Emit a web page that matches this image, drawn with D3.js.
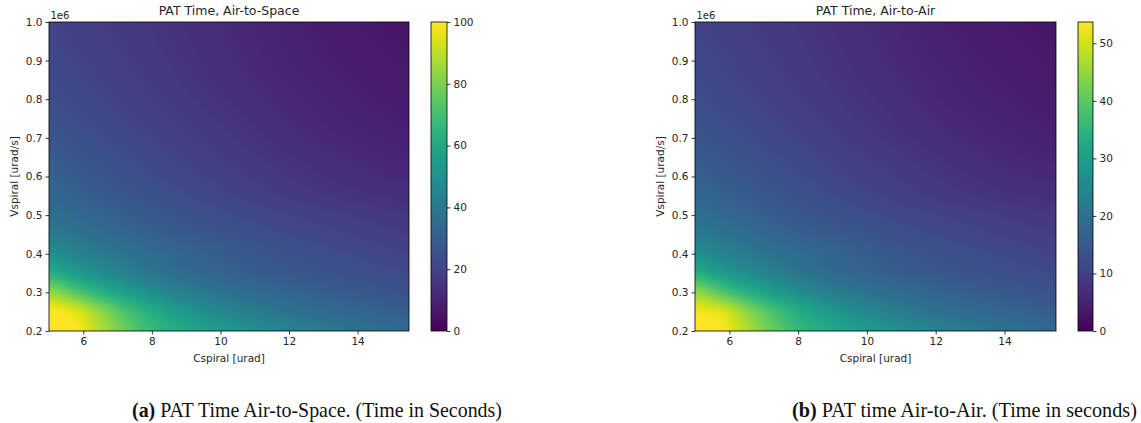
<!DOCTYPE html>
<html>
<head>
<meta charset="utf-8">
<script src="https://cdn.jsdelivr.net/npm/d3@7"></script>
<style>
  html, body { margin: 0; padding: 0; background: #ffffff; }
  svg { display: block; }
  text { font-family: "DejaVu Sans", sans-serif; fill: #262626; }
  .caption { font-family: "Liberation Serif", "DejaVu Serif", serif; fill: #111; }
</style>
</head>
<body>
<svg id="chart" width="1141" height="423"></svg>
<script>
// ---------------- data ----------------
// grid columns: Cspiral [urad]
const C_VALUES = [5, 5.75, 6.5, 7.25, 8, 8.75, 9.5, 10.25, 11, 11.75, 12.5, 13.25, 14, 14.75, 15.5];
// grid rows: Vspiral [urad/s] (in units of 1e6)
const V_VALUES = [0.2, 0.25, 0.3, 0.35, 0.4, 0.45, 0.5, 0.55, 0.6, 0.7, 0.8, 0.9, 1.0];

// PAT time (s), Air-to-Space: one row per V_VALUES entry, one column per C_VALUES entry
const AIR_TO_SPACE = [
  [100, 100, 88, 76.5, 67, 61.5, 57.5, 53.5, 49, 45.5, 42.5, 40, 37.5, 35.5, 34],
  [100, 95, 83, 71, 62, 55, 49.5, 45, 41.5, 38.5, 36, 34, 32.2, 30.5, 29],
  [84, 74, 64, 56, 49.5, 44, 40, 37, 34.5, 32.4, 30.6, 29.1, 27.7, 26.3, 25],
  [63, 55.5, 49, 43.5, 39, 35.5, 33, 31, 29.3, 27.8, 26.5, 25.3, 24.3, 23.4, 22.5],
  [50, 45, 41, 37.6, 34.8, 32.4, 30.4, 28.7, 27.1, 25.7, 24.4, 23.2, 22.1, 21, 20],
  [41.5, 38.2, 35.3, 32.8, 30.6, 28.7, 27, 25.5, 24.1, 22.8, 21.6, 20.5, 19.4, 18.4, 17.5],
  [36.5, 34, 31.5, 29.4, 27.5, 25.8, 24.2, 22.8, 21.5, 20.3, 19.2, 18.2, 17.3, 16.4, 15.6],
  [33, 30.8, 28.7, 26.8, 25, 23.3, 21.7, 20.2, 18.8, 17.6, 16.5, 15.5, 14.6, 13.9, 13.3],
  [30.5, 28.4, 26.4, 24.6, 22.9, 21.3, 19.8, 18.4, 17.1, 15.9, 14.8, 13.8, 12.9, 12.1, 11.5],
  [26.5, 24.8, 23.1, 21.5, 20, 18.6, 17.2, 15.9, 14.6, 13.4, 12.3, 11.3, 10.4, 9.7, 9],
  [23.5, 22, 20.6, 19.2, 17.8, 16.5, 15.2, 14, 12.8, 11.6, 10.5, 9.6, 8.8, 8.1, 7.5],
  [21.5, 20.3, 19, 17.7, 16.4, 15.1, 13.9, 12.7, 11.5, 10.3, 9.3, 8.4, 7.6, 7, 6.5],
  [20, 19, 17.8, 16.6, 15.5, 14.3, 13.2, 12, 10.8, 9.6, 8.5, 7.6, 6.8, 6.1, 5.5]
];

// PAT time (s), Air-to-Air
const AIR_TO_AIR = [
  [53.7, 53.6, 47.2, 41.0, 35.9, 33.0, 30.8, 28.7, 26.3, 24.4, 22.8, 21.4, 20.1, 19.0, 18.2],
  [52.5, 50.9, 44.5, 38.1, 33.2, 29.5, 26.5, 24.1, 22.2, 20.6, 19.3, 18.2, 17.3, 16.3, 15.5],
  [45.0, 39.7, 34.3, 30.0, 26.5, 23.6, 21.4, 19.8, 18.5, 17.4, 16.4, 15.6, 14.8, 14.1, 13.4],
  [33.8, 29.7, 26.3, 23.3, 20.9, 19.0, 17.7, 16.6, 15.7, 14.9, 14.2, 13.6, 13.0, 12.5, 12.1],
  [26.8, 24.1, 22.0, 20.2, 18.7, 17.4, 16.3, 15.4, 14.5, 13.8, 13.1, 12.4, 11.8, 11.3, 10.7],
  [22.2, 20.5, 18.9, 17.6, 16.4, 15.4, 14.5, 13.7, 12.9, 12.2, 11.6, 11.0, 10.4, 9.9, 9.4],
  [19.6, 18.2, 16.9, 15.8, 14.7, 13.8, 13.0, 12.2, 11.5, 10.9, 10.3, 9.8, 9.3, 8.8, 8.4],
  [17.7, 16.5, 15.4, 14.4, 13.4, 12.5, 11.6, 10.8, 10.1, 9.4, 8.8, 8.3, 7.8, 7.5, 7.1],
  [16.3, 15.2, 14.2, 13.2, 12.3, 11.4, 10.6, 9.9, 9.2, 8.5, 7.9, 7.4, 6.9, 6.5, 6.2],
  [14.2, 13.3, 12.4, 11.5, 10.7, 10.0, 9.2, 8.5, 7.8, 7.2, 6.6, 6.1, 5.6, 5.2, 4.8],
  [12.6, 11.8, 11.0, 10.3, 9.5, 8.8, 8.1, 7.5, 6.9, 6.2, 5.6, 5.1, 4.7, 4.3, 4.0],
  [11.5, 10.9, 10.2, 9.5, 8.8, 8.1, 7.5, 6.8, 6.2, 5.5, 5.0, 4.5, 4.1, 3.8, 3.5],
  [10.7, 10.2, 9.5, 8.9, 8.3, 7.7, 7.1, 6.4, 5.8, 5.1, 4.6, 4.1, 3.6, 3.3, 2.9]
];

const X_DOMAIN = [5, 15.5];
const Y_DOMAIN = [0.2, 1.0];
const X_TICKS = [6, 8, 10, 12, 14];
const Y_TICKS = [0.2, 0.3, 0.4, 0.5, 0.6, 0.7, 0.8, 0.9, 1.0];
const CBAR_TICKS_A = [0, 20, 40, 60, 80, 100];
const CBAR_TICKS_B = [0, 10, 20, 30, 40, 50];
const VMAX_A = 100;
const VMAX_B = 53.7;
const TITLES = ["PAT Time, Air-to-Space", "PAT Time, Air-to-Air"];
const X_LABEL = "Cspiral [urad]";
const Y_LABEL = "Vspiral [urad/s]";
const OFFSET_LABEL = "1e6";
const CAPTIONS = [
  {tag: "(a)", text: " PAT Time Air-to-Space. (Time in Seconds)"},
  {tag: "(b)", text: " PAT time Air-to-Air. (Time in seconds)"}
];

// ---------------- layout ----------------
const panels = [
  {grid: AIR_TO_SPACE, vmax: VMAX_A, cticks: CBAR_TICKS_A, title: TITLES[0], caption: CAPTIONS[0],
   left: 49, top: 22, width: 360, height: 309, cbarX: 431, cbarW: 16, ylabX: 14, capX: 132, capW: 370},
  {grid: AIR_TO_AIR, vmax: VMAX_B, cticks: CBAR_TICKS_B, title: TITLES[1], caption: CAPTIONS[1],
   left: 695, top: 22, width: 361, height: 309, cbarX: 1078, cbarW: 15, ylabX: 660, capX: 792, capW: 345}
];

const svg = d3.select("#chart");

// fractional grid index of a value (piecewise linear over the grid coordinates)
function fracIndex(arr, v) {
  let i = d3.bisectRight(arr, v) - 1;
  i = Math.max(0, Math.min(arr.length - 2, i));
  const t = Math.max(0, Math.min(1, (v - arr[i]) / (arr[i + 1] - arr[i])));
  return i + t;
}
function cr(p0, p1, p2, p3, t) {
  const t2 = t * t, t3 = t2 * t;
  return 0.5 * ((2 * p1) + (-p0 + p2) * t + (2 * p0 - 5 * p1 + 4 * p2 - p3) * t2 + (-p0 + 3 * p1 - 3 * p2 + p3) * t3);
}
function sample(grid, c, v, vmax) {
  const fx = fracIndex(C_VALUES, c), fy = fracIndex(V_VALUES, v);
  const nx = C_VALUES.length, ny = V_VALUES.length;
  const i = Math.min(nx - 2, Math.floor(fx)), j = Math.min(ny - 2, Math.floor(fy));
  const tx = fx - i, ty = fy - j;
  const g = (jj, ii) => grid[Math.max(0, Math.min(ny - 1, jj))][Math.max(0, Math.min(nx - 1, ii))];
  const rows = [];
  for (let k = -1; k <= 2; k++) {
    rows.push(cr(g(j + k, i - 1), g(j + k, i), g(j + k, i + 1), g(j + k, i + 2), tx));
  }
  const val = cr(rows[0], rows[1], rows[2], rows[3], ty);
  return Math.max(0, Math.min(vmax, val));
}

panels.forEach(p => {
  const x = d3.scaleLinear().domain(X_DOMAIN).range([p.left, p.left + p.width]);
  const y = d3.scaleLinear().domain(Y_DOMAIN).range([p.top + p.height, p.top]);
  const color = d3.scaleSequential(d3.interpolateViridis).domain([0, p.vmax]).clamp(true);

  // heatmap raster
  const canvas = document.createElement("canvas");
  canvas.width = p.width; canvas.height = p.height;
  const ctx = canvas.getContext("2d");
  const img = ctx.createImageData(p.width, p.height);
  for (let py = 0; py < p.height; py++) {
    const vv = y.invert(p.top + py + 0.5);
    for (let px = 0; px < p.width; px++) {
      const cv = x.invert(p.left + px + 0.5);
      const c = d3.rgb(color(sample(p.grid, cv, vv, p.vmax)));
      const k = (py * p.width + px) * 4;
      img.data[k] = c.r; img.data[k + 1] = c.g; img.data[k + 2] = c.b; img.data[k + 3] = 255;
    }
  }
  ctx.putImageData(img, 0, 0);
  svg.append("image")
    .attr("x", p.left).attr("y", p.top)
    .attr("width", p.width).attr("height", p.height)
    .attr("preserveAspectRatio", "none")
    .attr("href", canvas.toDataURL());

  // frame
  svg.append("rect").attr("x", p.left).attr("y", p.top).attr("width", p.width).attr("height", p.height)
    .attr("fill", "none").attr("stroke", "#000").attr("stroke-width", 0.8);

  // axes
  const xAxis = d3.axisBottom(x).tickValues(X_TICKS).tickSize(3.5).tickPadding(3).tickFormat(d3.format("d"));
  const gx = svg.append("g").attr("transform", `translate(0,${p.top + p.height})`).call(xAxis);
  const yAxis = d3.axisLeft(y).tickValues(Y_TICKS).tickSize(3.5).tickPadding(3).tickFormat(d3.format(".1f"));
  const gy = svg.append("g").attr("transform", `translate(${p.left},0)`).call(yAxis);
  [gx, gy].forEach(g => {
    g.select(".domain").remove();
    g.selectAll(".tick line").attr("stroke", "#000").attr("stroke-width", 0.8);
    g.selectAll(".tick text").attr("font-size", 10.5).attr("font-family", "DejaVu Sans").attr("fill", "#262626");
  });

  // title
  svg.append("text").attr("x", p.left + p.width / 2).attr("y", 15)
    .attr("text-anchor", "middle").attr("font-size", 12.5).text(p.title);
  // offset text
  svg.append("text").attr("x", p.left + 1.5).attr("y", 19).attr("font-size", 10).text(OFFSET_LABEL);
  // x label
  svg.append("text").attr("x", p.left + p.width / 2).attr("y", 362)
    .attr("text-anchor", "middle").attr("font-size", 10.5).text(X_LABEL);
  // y label
  svg.append("text").attr("transform", `translate(${p.ylabX + 4},${p.top + p.height / 2}) rotate(-90)`)
    .attr("text-anchor", "middle").attr("font-size", 10.5).text(Y_LABEL);

  // colorbar
  const cy = d3.scaleLinear().domain([0, p.vmax]).range([p.top + p.height, p.top]);
  const gradId = "grad" + p.left;
  const grad = svg.append("defs").append("linearGradient").attr("id", gradId)
    .attr("x1", 0).attr("x2", 0).attr("y1", 1).attr("y2", 0);
  d3.range(0, 1.0001, 0.05).forEach(t => {
    grad.append("stop").attr("offset", t).attr("stop-color", color(t * p.vmax));
  });
  svg.append("rect").attr("x", p.cbarX).attr("y", p.top).attr("width", p.cbarW).attr("height", p.height)
    .attr("fill", `url(#${gradId})`).attr("stroke", "#000").attr("stroke-width", 0.8);
  const cAxis = d3.axisRight(cy).tickValues(p.cticks).tickSize(3.5).tickPadding(3).tickFormat(d3.format("d"));
  const gc = svg.append("g").attr("transform", `translate(${p.cbarX + p.cbarW},0)`).call(cAxis);
  gc.select(".domain").remove();
  gc.selectAll(".tick line").attr("stroke", "#000").attr("stroke-width", 0.8);
  gc.selectAll(".tick text").attr("font-size", 10.5).attr("font-family", "DejaVu Sans").attr("fill", "#262626");

  // caption
  const cap = svg.append("text").attr("class", "caption").attr("x", p.capX).attr("y", 417).attr("font-size", 16);
  cap.append("tspan").attr("font-weight", "bold").text(p.caption.tag);
  cap.append("tspan").text(p.caption.text);
  const w = cap.node().getComputedTextLength();
  if (w > 0) cap.attr("font-size", 16 * p.capW / w);
});
</script>
</body>
</html>
